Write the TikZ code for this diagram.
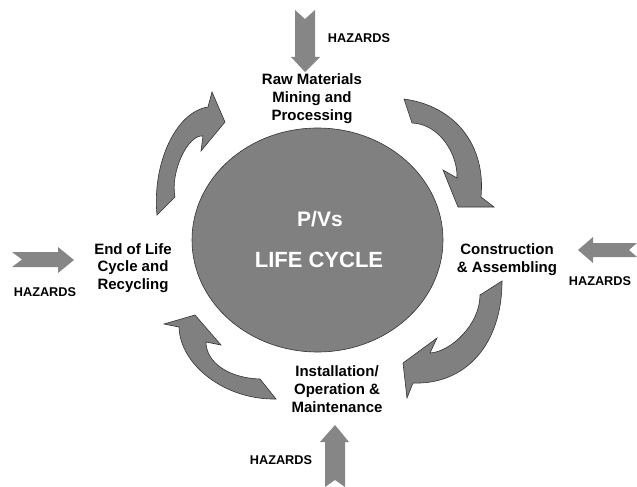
\documentclass[tikz,border=0pt]{standalone}
\usepackage{fontspec}
\setmainfont{Liberation Sans}
\usetikzlibrary{shapes.geometric}
\begin{document}
\begin{tikzpicture}[x=1pt,y=-1pt,
  stage/.style={align=center,inner sep=0pt,font=\bfseries\fontsize{15}{17.7}\selectfont},
  hazard/.style={inner sep=0pt,font=\bfseries\fontsize{12.7}{15}\selectfont},
  inflow/.style={fill=gray!95},
  curvearrow/.style={fill=gray,draw=black!80,line width=0.6pt,line join=miter}]
  \useasboundingbox (0,0) rectangle (637,487);
  % centre of the cycle
  \node[ellipse,fill=gray,draw=black!80,line width=0.6pt,inner sep=0pt,
        minimum width=251pt,minimum height=224pt] (core) at (317.5,240) {};
  \node[text=white,inner sep=0pt,font=\bfseries\fontsize{21}{25}\selectfont] (t0) at (320,219.5) {P/Vs};
  \node[text=white,inner sep=0pt,font=\bfseries\fontsize{22}{26}\selectfont] (t1) at (319,259.5) {LIFE CYCLE};
  % stages
  \node[stage] (s0) at (312,98.5) {Raw Materials\\Mining and\\Processing};
  \node[stage] (s1) at (507,260) {Construction\\\& Assembling};
  \node[stage] (s2) at (337,389) {Installation/\\Operation \&\\Maintenance};
  \node[stage] (s3) at (133,268) {End of Life\\Cycle and\\Recycling};
  % hazards
  \node[hazard] (h0) at (359,38) {HAZARDS};
  \node[hazard] (h1) at (600,281) {HAZARDS};
  \node[hazard] (h2) at (281,460) {HAZARDS};
  \node[hazard] (h3) at (45,292) {HAZARDS};
  \fill[inflow] (295,10) -- (305,19) -- (315,10) -- (315,57) -- (320,57) -- (305,72) -- (291,57) -- (295,57) -- cycle;
  \fill[inflow] (637,243) -- (593,243) -- (593,237) -- (578,250) -- (593,263) -- (593,257) -- (637,257) -- (629,250) -- cycle;
  \fill[inflow] (325,487) -- (325,442) -- (320,442) -- (335,425) -- (349,442) -- (345,442) -- (345,487) -- (335,480) -- cycle;
  \fill[inflow] (12,252) -- (58,252) -- (58,247) -- (74,260) -- (58,273) -- (58,267) -- (12,267) -- (22,259.5) -- cycle;
  % curved arrows of the cycle
  \draw[curvearrow] (404,99) .. controls (455,106) and (486,145) .. (481,197) -- (494,207) -- (458,207) -- (443,170) -- (457,178)
    .. controls (458,155) and (440,124) .. (412,123) -- cycle;
  \draw[curvearrow] (502,281) .. controls (502,345) and (465,385) .. (413,383) -- (407,398) -- (403,363) -- (437,338) -- (430,353)
    .. controls (450,352) and (480,325) .. (480,295) -- cycle;
  \draw[curvearrow] (276,399) .. controls (225,400) and (180,365) .. (179,327) -- (164,324) -- (195,315) -- (221,345) -- (206,342)
    .. controls (206,362) and (228,378) .. (260,379) -- cycle;
  \draw[curvearrow] (157,215) .. controls (152,165) and (175,112) .. (208,107) -- (212,92) -- (225,122) -- (201,151) -- (203,136)
    .. controls (188,134) and (170,172) .. (175,197) -- cycle;
\end{tikzpicture}
\end{document}
